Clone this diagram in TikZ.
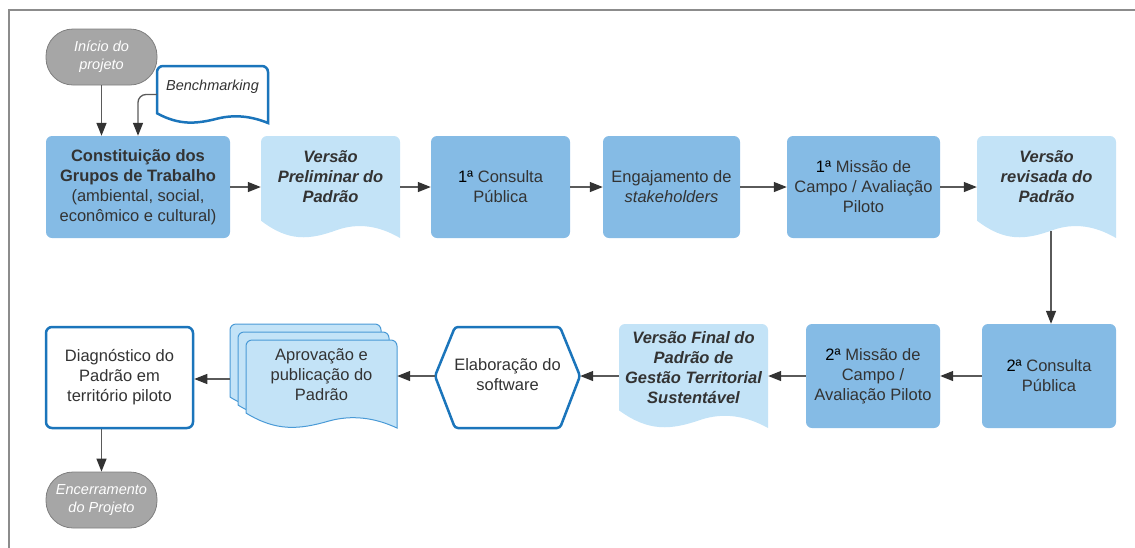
\documentclass[tikz,border=0pt]{standalone}
\usepackage{fontspec}
\setmainfont{Liberation Sans}
\usetikzlibrary{arrows.meta}
\definecolor{boxblue}{HTML}{85BBE5}
\definecolor{docblue}{HTML}{C3E3F7}
\definecolor{edgeblue}{HTML}{1B75BB}
\definecolor{mdblue}{HTML}{4A9AD6}
\definecolor{termgray}{HTML}{A6A6A6}
\definecolor{termedge}{HTML}{7F7F7F}
\definecolor{txt}{HTML}{333333}
\definecolor{linegray}{HTML}{5A5A5A}
\definecolor{framegray}{HTML}{8C8C8C}
\newcommand\mainfs{\fontsize{16.5}{20}\selectfont}
\newcommand\smallfs{\fontsize{14.5}{18}\selectfont}
\newcommand\docpath[4]{(#1,{#4-0.17*(#4-#2)}) [rounded corners=6pt] -- (#1,#2) -- (#3,#2) -- (#3,{#4-8}) [sharp corners] -- (#3,#4)
 .. controls ({#1+0.85*(#3-#1)},{#4-0.12*(#4-#2)}) and ({#1+0.7*(#3-#1)},{#4-0.15*(#4-#2)}) .. ({#1+0.55*(#3-#1)},{#4-0.08*(#4-#2)})
 .. controls ({#1+0.35*(#3-#1)},{#4+0.02*(#4-#2)}) and ({#1+0.2*(#3-#1)},{#4+0.04*(#4-#2)}) .. (#1,{#4-0.17*(#4-#2)}) -- cycle}
\begin{document}
\begin{tikzpicture}[x=1pt,y=-1pt,
  box/.style={fill=boxblue, rounded corners=6pt, align=center, text=txt, font=\mainfs, inner sep=0pt},
  wbox/.style={fill=white, draw=edgeblue, line width=2.5pt, rounded corners=6pt, align=center, text=txt, font=\mainfs, inner sep=0pt},
  term/.style={fill=termgray, draw=termedge, line width=0.8pt, rounded corners=27pt, minimum width=111pt, minimum height=56pt, align=center, text=white, font=\smallfs\itshape, inner sep=0pt},
  inv/.style={inner sep=0pt, draw=none},
  doctext/.style={align=center, text=txt, font=\mainfs\bfseries\itshape, inner sep=0pt},
  plaintext/.style={align=center, text=txt, font=\mainfs, inner sep=0pt},
  arr/.style={draw=linegray, line width=1.3pt, -{Triangle[length=13pt,width=10pt,color=txt]}}]
\useasboundingbox (0,0) rectangle (1135,547);
\draw[framegray, line width=2pt] (1140,10) -- (9,10) -- (9,552);

% row 1
\node[term] (ini) at (101.5,57) {Início do\\projeto};
\filldraw[fill=white, draw=edgeblue, line width=2.5pt] \docpath{157}{66}{268}{123};
\node[inv, minimum width=111pt, minimum height=57pt] (bench) at (212.5,94.5) {};
\node[plaintext, font=\smallfs\itshape] (bencht) at (212.5,87) {Benchmarking};

\node[box, minimum width=184pt, minimum height=102pt] (cons) at (138,187)
  {\textbf{Constituição dos}\\\textbf{Grupos de Trabalho}\\(ambiental, social,\\econômico e cultural)};
\fill[docblue] \docpath{261}{136}{400}{238};
\node[inv, minimum width=139pt, minimum height=102pt] (vp) at (330.5,187) {};
\node[doctext] (vpt) at (330.5,177) {Versão\\Preliminar do\\Padrão};
\node[box, minimum width=139pt, minimum height=102pt] (c1) at (500.5,187) {\textcolor{black}{1ª} Consulta\\Pública};
\node[box, minimum width=137pt, minimum height=102pt] (eng) at (671.5,187) {Engajamento de\\\textit{stakeholders}};
\node[box, minimum width=153pt, minimum height=102pt] (m1) at (863.5,187) {\textcolor{black}{1ª} Missão de\\Campo / Avaliação\\Piloto};
\fill[docblue] \docpath{977}{136}{1116}{238};
\node[inv, minimum width=139pt, minimum height=102pt] (rev) at (1046.5,187) {};
\node[doctext] (revt) at (1046.5,177) {Versão\\revisada do\\Padrão};
\coordinate (revb) at (1051,231);

% row 2
\node[box, minimum width=134pt, minimum height=104pt] (c2) at (1049,376) {\textcolor{black}{2ª} Consulta\\Pública};
\node[box, minimum width=134pt, minimum height=104pt] (m2) at (873,376) {\textcolor{black}{2ª} Missão de\\Campo /\\Avaliação Piloto};
\fill[docblue] \docpath{619}{324}{768}{428};
\node[inv, minimum width=149pt, minimum height=104pt] (vf) at (693.5,376) {};
\node[doctext] (vft) at (693.5,368) {Versão Final do\\Padrão de\\Gestão Territorial\\Sustentável};
\filldraw[fill=white, draw=edgeblue, line width=2.5pt, rounded corners=3pt]
  (435,376) -- (455,327) -- (560,327) -- (580,376) -- (560,428) -- (455,428) -- cycle;
\node[inv, minimum width=145pt, minimum height=98pt] (hex) at (507.5,376) {};
\node[plaintext] (hext) at (507.5,375) {Elaboração do\\software};
\filldraw[fill=docblue, draw=mdblue, line width=1pt] \docpath{230}{324}{381}{412};
\filldraw[fill=docblue, draw=mdblue, line width=1pt] \docpath{238}{332}{389}{420};
\filldraw[fill=docblue, draw=mdblue, line width=1pt] \docpath{246}{340}{397}{428};
\node[inv, minimum width=167pt, minimum height=104pt] (apr) at (313.5,379) {};
\node[plaintext] (aprt) at (321.5,375) {Aprovação e\\publicação do\\Padrão};
\node[wbox, minimum width=147pt, minimum height=101pt] (diag) at (119.5,377.5) {Diagnóstico do\\Padrão em\\território piloto};
\node[term] (enc) at (101.5,500) {Encerramento\\do Projeto};

% connectors
\draw[arr] (ini.south) -- (ini.south |- cons.north);
\draw[arr, rounded corners=8pt] (bench.west) -| (cons.north);
\draw[arr] (cons.east) -- (vp.west);
\draw[arr] (vp.east) -- (c1.west);
\draw[arr] (c1.east) -- (eng.west);
\draw[arr] (eng.east) -- (m1.west);
\draw[arr] (m1.east) -- (rev.west);
\draw[arr] (revb) -- (revb |- c2.north);
\draw[arr] (c2.west) -- (m2.east);
\draw[arr] (m2.west) -- (vf.east);
\draw[arr] (vf.west) -- (vf.west -| hex.east);
\draw[arr] (hex.west) -- (hex.west -| apr.east);
\draw[arr] (apr.west) -- (apr.west -| diag.east);
\draw[arr] (diag.south -| enc.north) -- (enc.north);
\end{tikzpicture}
\end{document}
